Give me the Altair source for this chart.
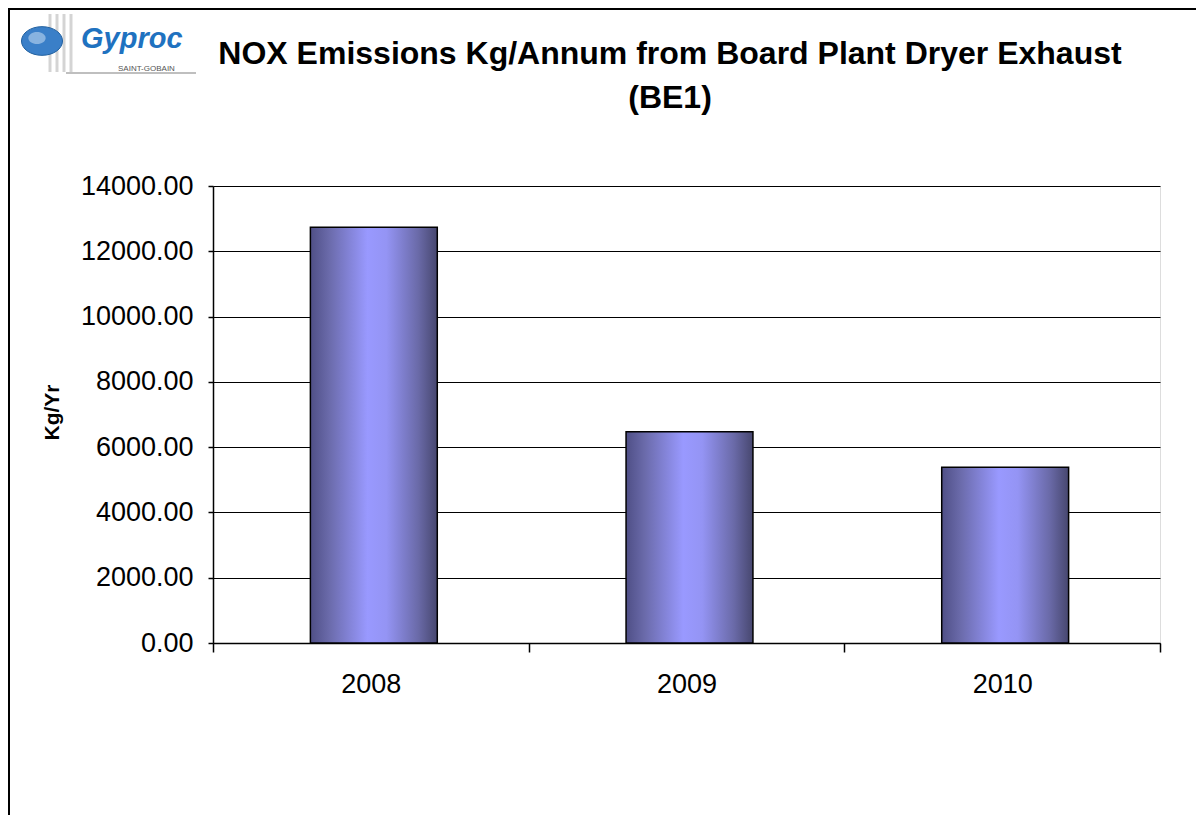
import altair as alt
import pandas as pd

# ---- data ----
years = ["2008", "2009", "2010"]
nox_kg = [12740, 6470, 5385]
y_ticks = [0, 2000, 4000, 6000, 8000, 10000, 12000, 14000]
title_lines = ["NOX Emissions Kg/Annum from Board Plant Dryer Exhaust", "(BE1)"]
y_title = "Kg/Yr"
logo_name = "Gyproc"
logo_sub = "SAINT-GOBAIN"

df = pd.DataFrame({"Year": years, "NOx": nox_kg})
one = alt.Data(values=[{"k": 1}])
FONT = "Liberation Sans"

grad = alt.LinearGradient(
    gradient="linear", x1=0, x2=1, y1=0, y2=0,
    stops=[
        alt.GradientStop(color="#4f4f86", offset=0),
        alt.GradientStop(color="#6b6bab", offset=0.15),
        alt.GradientStop(color="#9999ff", offset=0.45),
        alt.GradientStop(color="#9494f4", offset=0.6),
        alt.GradientStop(color="#6a6aa8", offset=0.85),
        alt.GradientStop(color="#47476f", offset=1),
    ],
)

bars = alt.Chart(df).mark_bar(color=grad, stroke="black", strokeWidth=1.5,
                              width=alt.RelativeBandSize(0.402), xOffset=3).encode(
    x=alt.X("Year:N", title=None,
            scale=alt.Scale(paddingInner=0, paddingOuter=0),
            axis=alt.Axis(labelAngle=0, tickBand="extent", tickSize=9, tickColor="black",
                          tickWidth=1.5, domainColor="black", domainWidth=1.5,
                          labelFontSize=27, labelFont=FONT, labelColor="black",
                          labelPadding=19, grid=False)),
    y=alt.Y("NOx:Q",
            scale=alt.Scale(domain=[0, 14000], nice=False),
            axis=alt.Axis(values=y_ticks, format=".2f", grid=True, gridColor="black",
                          gridWidth=1, tickSize=5, tickColor="black", tickWidth=1.5,
                          domainColor="black", domainWidth=1.5,
                          labelFontSize=27, labelFont=FONT, labelColor="black",
                          labelPadding=15,
                          title=y_title, titleFont=FONT, titleFontSize=21,
                          titleFontWeight="bold", titleColor="black",
                          titleAngle=270, titleX=-155, titleY=226,
                          titleAlign="center", titleBaseline="alphabetic")),
)

# ---- title as text marks (positions relative to plot origin) ----
title_marks = [
    alt.Chart(one).mark_text(text=line, font=FONT, fontSize=32, fontWeight="bold",
                             color="black", align="center", baseline="alphabetic"
                             ).encode(x=alt.value(457), y=alt.value(yv))
    for line, yv in zip(title_lines, (-122, -78))
]

# ---- decorations (logo and frame) ----
stripes = [
    alt.Chart(one).mark_rule(color="#d4d4d4", strokeWidth=3).encode(
        x=alt.value(xv), y=alt.value(-172), y2=alt.value(-114))
    for xv in (-163, -156, -149, -142)
]
underline = alt.Chart(one).mark_rule(color="#aaaaaa", strokeWidth=1.5).encode(
    x=alt.value(-147), x2=alt.value(-17), y=alt.value(-113))
globe = alt.Chart(one).mark_point(
    shape="M-1,0A1,0.7,0,1,1,1,0A1,0.7,0,1,1,-1,0Z",
    filled=True, fill="#3a7fc8", stroke="#1f5f9f", strokeWidth=1, opacity=1, size=1681
).encode(x=alt.value(-171), y=alt.value(-145))
globe_land = alt.Chart(one).mark_point(
    shape="M-1,0A1,0.7,0,1,1,1,0A1,0.7,0,1,1,-1,0Z",
    filled=True, fill="#a9c9ea", opacity=0.7, size=300
).encode(x=alt.value(-176), y=alt.value(-148))
logo_text = alt.Chart(one).mark_text(
    text=logo_name, font=FONT, fontSize=29, fontWeight="bold", fontStyle="italic",
    color="#1f72c0", align="left", baseline="alphabetic"
).encode(x=alt.value(-132), y=alt.value(-138))
logo_small = alt.Chart(one).mark_text(
    text=logo_sub, font=FONT, fontSize=8, color="#555555", align="left",
    baseline="alphabetic"
).encode(x=alt.value(-95), y=alt.value(-115))
frame = alt.Chart(one).mark_rect(fill="transparent", stroke="black", strokeWidth=2).encode(
    x=alt.value(-204), x2=alt.value(993), y=alt.value(-177), y2=alt.value(639))

chart = alt.layer(bars, *title_marks, *stripes, underline, globe, globe_land,
                  logo_text, logo_small, frame).properties(
    width=947, height=457,
    autosize=alt.AutoSizeParams(type="none"),
    padding={"left": 205, "top": 178, "right": 36, "bottom": 172},
).configure_view(stroke="#888888", strokeWidth=2).configure(background="white")

chart.save("out.html", embed_options={"renderer": "svg", "actions": False})
